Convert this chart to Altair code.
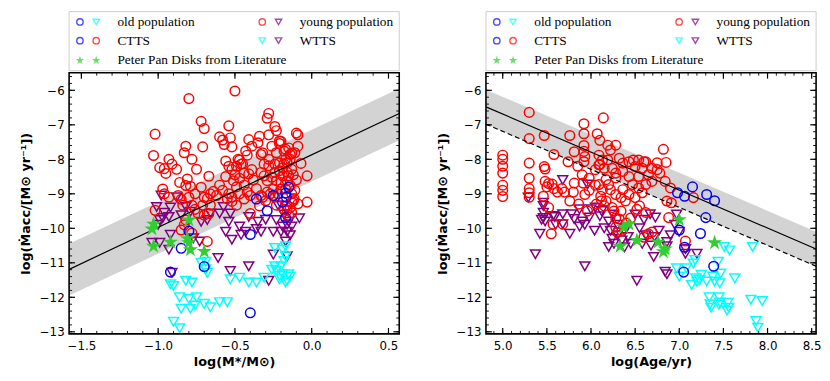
import altair as alt
import pandas as pd

# ---------------- LEFT PANEL: log(M*/Msun) ----------------
L_young_ctts = [
    (-0.50, -6.02), (-0.80, -6.24), (-1.02, -7.27), (-0.72, -6.90), (-0.70, -7.11), (-0.54, -7.03),
    (-0.82, -7.62), (-0.71, -7.64), (-1.03, -7.89), (-0.83, -7.81), (-0.78, -8.00), (-0.60, -7.35),
    (-0.58, -7.44), (-0.57, -7.57), (-0.53, -7.38), (-0.52, -7.64), (-0.28, -6.67), (-0.29, -6.81),
    (-0.24, -7.05), (-0.23, -7.17), (-0.34, -7.33), (-0.28, -7.29), (-0.41, -7.43), (-0.39, -7.62),
    (-0.21, -7.47), (-0.26, -7.62), (-0.09, -7.29), (-0.09, -7.62), (-0.43, -7.76), (-0.42, -7.88),
    (-0.32, -7.81), (-0.23, -7.81), (-0.18, -7.76), (-0.13, -7.82), (-0.56, -8.05), (-0.47, -8.02),
    (-0.45, -8.13), (-0.07, -8.12), (-0.03, -8.48), (-0.21, -7.54), (-0.35, -7.52), (-0.17, -7.71),
    (-0.15, -7.67), (-0.11, -7.81), (-0.10, -7.24), (-0.20, -7.48), (-0.14, -7.86),
    (-0.93, -8.00), (-0.91, -8.14), (-0.99, -8.24), (-0.96, -8.27), (-0.95, -8.41), (-0.88, -8.29),
    (-0.67, -8.49), (-0.56, -8.50), (-0.48, -8.00), (-0.46, -8.14), (-0.86, -8.67), (-0.81, -8.57),
    (-0.82, -8.76), (-0.79, -8.78), (-0.72, -8.81), (-0.76, -9.00), (-0.70, -9.10), (-0.66, -9.00),
    (-0.64, -8.93), (-0.97, -8.86), (-0.96, -9.00), (-0.93, -9.10), (-0.87, -9.05), (-0.85, -9.16),
    (-0.80, -9.10), (-0.78, -9.33), (-0.71, -9.33), (-0.68, -9.14), (-0.75, -8.29), (-0.54, -8.20),
    (-0.52, -8.30), (-0.49, -8.20), (-0.50, -8.45), (-0.47, -8.55), (-0.51, -8.62), (-0.49, -8.80),
    (-0.54, -9.00), (-0.52, -9.10), (-0.55, -9.14), (-0.47, -9.00), (-0.44, -8.40), (-0.41, -8.42),
    (-0.39, -8.30), (-0.60, -8.75), (-0.58, -8.90), (-0.62, -9.05), (-0.44, -8.75), (-0.42, -8.95),
    (-0.38, -8.60), (-0.36, -8.85), (-1.02, -9.48), (-0.84, -9.33), (-0.74, -9.57), (-0.83, -9.90),
    (-0.85, -10.05), (-0.78, -10.14), (-0.68, -10.38), (-0.66, -9.33), (-0.49, -9.33), (-0.52, -9.22),
    (-0.03, -9.24), (-0.82, -9.76), (-0.76, -9.45), (-0.70, -9.62), (-0.67, -9.57), (-0.40, -9.57),
    (-0.34, -9.35), (-0.33, -9.05), (-0.30, -9.20), (-0.27, -9.00), (-0.40, -9.05), (-0.44, -9.15),
    (-0.33, -7.86), (-0.28, -8.00), (-0.31, -8.14), (-0.28, -8.19), (-0.24, -8.14), (-0.21, -8.10),
    (-0.18, -8.14), (-0.16, -8.10), (-0.14, -8.00), (-0.13, -8.29), (-0.16, -8.38), (-0.19, -8.48),
    (-0.21, -8.33), (-0.24, -8.38), (-0.26, -8.52), (-0.29, -8.62), (-0.31, -8.48), (-0.33, -8.38),
    (-0.23, -8.62), (-0.20, -8.67), (-0.16, -8.62), (-0.14, -8.76), (-0.17, -8.86), (-0.20, -8.86),
    (-0.22, -9.00), (-0.25, -8.86), (-0.29, -8.95), (-0.32, -9.10), (-0.13, -9.00), (-0.115, -9.14),
    (-0.16, -9.33), (-0.16, -9.48), (-0.23, -9.33), (-0.24, -9.10), (-0.09, -9.29), (-0.15, -8.48),
    (-0.14, -9.40), (-0.13, -9.55), (-0.15, -9.62), (-0.12, -9.20), (-0.18, -9.45), (-0.11, -8.90),
    (-0.10, -8.60), (-0.12, -8.45), (-0.19, -8.25), (-0.17, -8.00), (-0.13, -9.24),
]
L_young_wtts = [
    (-1.01, -9.38), (-0.98, -9.05), (-0.99, -9.76), (-0.97, -9.70), (-0.93, -9.67), (-0.92, -10.19),
    (-0.93, -10.62), (-0.92, -9.40), (-0.85, -9.62), (-0.79, -9.52), (-0.72, -9.81), (-0.77, -10.29),
    (-0.73, -10.38), (-0.68, -9.76), (-0.66, -9.57), (-0.60, -9.57), (-0.53, -9.57), (-0.54, -9.81),
    (-0.56, -10.10), (-0.52, -10.33), (-0.47, -9.95), (-0.46, -10.19), (-0.41, -9.67), (-0.43, -10.10),
    (-0.35, -9.81), (-0.33, -10.10), (-0.36, -10.02), (-0.30, -9.75), (-0.23, -9.76), (-0.25, -10.10),
    (-0.20, -10.10), (-0.165, -9.48), (-0.16, -9.90), (-0.15, -9.81), (-0.08, -9.71), (-0.16, -10.10),
    (-0.17, -10.38), (-0.16, -10.81), (-0.25, -10.76), (-0.61, -10.86), (-0.53, -11.24), (-0.41, -11.10),
    (-0.28, -11.52), (-0.91, -11.29), (-1.00, -9.90), (-1.04, -10.42), (-0.99, -10.42), (-0.13, -9.95),
    (-0.18, -9.60), (-0.19, -9.95), (-0.14, -10.20), (-0.88, -9.10), (-0.82, -9.38), (-0.575, -9.38),
    (-0.22, -9.33), (-0.96, -9.55),
]
L_old_wtts = [
    (-0.90, -11.67), (-0.92, -11.62), (-0.82, -11.52), (-0.78, -11.57), (-0.86, -12.00), (-0.80, -12.05),
    (-0.75, -12.00), (-0.85, -12.33), (-0.79, -12.33), (-0.76, -12.24), (-0.70, -12.19), (-0.66, -12.29),
    (-0.60, -12.14), (-0.55, -12.14), (-0.90, -12.71), (-0.86, -12.90), (-0.72, -11.00), (-0.69, -10.97),
    (-0.68, -11.29), (-0.69, -11.19), (-0.53, -11.48), (-0.47, -11.43), (-0.41, -11.57), (-0.36, -11.57),
    (-0.31, -11.43), (-0.24, -10.57), (-0.19, -10.62), (-0.17, -10.52), (-0.18, -10.95), (-0.17, -10.81),
    (-0.24, -11.10), (-0.23, -11.24), (-0.21, -11.38), (-0.19, -11.33), (-0.15, -11.33), (-0.16, -11.52),
    (-0.21, -11.48), (-0.26, -11.20), (-0.17, -11.57), (-0.14, -11.40), (-0.20, -11.10),
]
L_old_ctts = [
    (-0.15, -8.81), (-0.17, -8.98), (-0.165, -9.10), (-0.25, -9.05), (-0.36, -9.15), (-0.29, -9.49),
    (-0.19, -9.24), (-0.17, -9.69), (-0.40, -10.18), (-0.80, -10.08), (-0.85, -10.58), (-0.92, -11.27),
    (-0.70, -11.11), (-0.40, -12.45),
]
L_peter_pan = [
    (-1.03, -9.88), (-1.04, -10.02), (-1.03, -10.52), (-0.92, -10.40), (-0.80, -9.76), (-0.81, -10.30),
    (-0.80, -10.42), (-0.79, -10.62), (-0.70, -10.67),
]
L_fit_x = [-1.58, 0.57]
L_fit_y = [-11.19, -6.67]
L_band_hi = [-10.45, -5.95]
L_band_lo = [-11.95, -7.45]

# ---------------- RIGHT PANEL: log(Age/yr) ----------------
R_young_ctts = [
    (5.00, -7.88), (5.00, -8.00), (5.00, -8.20), (5.00, -8.40), (5.00, -8.75), (5.00, -8.90), (5.00, -9.08),
    (5.30, -6.64), (5.30, -7.40), (5.30, -8.11), (5.30, -8.55), (5.30, -8.85), (5.30, -8.97), (5.30, -9.10),
    (5.47, -7.31), (5.58, -7.86), (5.47, -8.21), (5.48, -8.28), (5.48, -8.64), (5.52, -8.70), (5.56, -8.72),
    (5.76, -7.31), (5.81, -7.78), (5.74, -8.07), (5.92, -6.97), (5.92, -7.26), (5.92, -7.60), (5.92, -7.77),
    (5.93, -7.92), (5.92, -8.07), (6.07, -7.26), (6.10, -7.45), (6.14, -6.80), (6.19, -7.59), (6.22, -7.73),
    (6.28, -7.59), (6.82, -7.71), (6.85, -8.09), (6.75, -8.30), (6.60, -8.07), (5.85, -8.20), (5.90, -8.45),
    (5.98, -8.55), (6.05, -8.30), (6.10, -8.15), (6.09, -7.88), (6.13, -8.02), (6.19, -8.02), (6.09, -8.16),
    (6.15, -8.26), (6.24, -8.26), (6.28, -8.40), (6.32, -7.97), (6.36, -8.11), (6.43, -8.07), (6.48, -8.02),
    (6.54, -8.02), (6.62, -8.07), (6.50, -8.21), (6.58, -8.26), (6.69, -8.26), (6.78, -8.40), (6.65, -8.45),
    (6.54, -8.50), (6.43, -8.50), (6.36, -8.35), (6.28, -8.54), (6.17, -8.59), (6.09, -8.73), (6.13, -8.88),
    (6.11, -9.07), (6.17, -9.21), (6.28, -9.02), (6.34, -9.11), (6.36, -8.88), (6.24, -9.40), (6.34, -9.50),
    (6.32, -9.73), (6.28, -9.97), (6.47, -8.73), (6.54, -8.83), (6.62, -8.73), (6.69, -8.64), (6.43, -9.02),
    (6.50, -9.11), (6.58, -8.97), (6.39, -9.21), (6.20, -8.73), (6.22, -8.88), (6.84, -8.64), (6.90, -8.83),
    (6.86, -9.21), (6.91, -9.26), (7.16, -9.11), (6.62, -9.54), (6.65, -10.16), (7.07, -10.37), (6.75, -8.10),
    (5.50, -8.80), (5.58, -8.85), (5.62, -8.95), (5.67, -8.85), (5.46, -9.07), (5.52, -9.40), (5.57, -9.88),
    (5.55, -10.16), (5.68, -9.88), (5.76, -9.21), (5.93, -9.02), (5.91, -8.69), (5.81, -8.69), (5.96, -9.50),
    (6.06, -9.30), (6.12, -9.20), (6.05, -8.75), (5.70, -8.95), (5.80, -8.95), (5.86, -9.30), (5.98, -8.90),
    (6.35, -10.07), (6.30, -10.12), (6.60, -10.26), (6.69, -10.11), (6.88, -9.69), (6.52, -9.45), (6.55, -9.35),
    (6.26, -9.50), (6.28, -9.70), (6.15, -9.35), (6.40, -9.85), (6.45, -9.70),
]
R_young_wtts = [
    (5.29, -9.11), (5.46, -9.26), (5.46, -9.35), (5.46, -9.55), (5.46, -9.70), (5.48, -9.80), (5.44, -9.75),
    (5.57, -9.64), (5.59, -9.67), (5.68, -9.59), (5.78, -9.59), (5.81, -9.73), (5.87, -9.45), (5.90, -9.80),
    (5.93, -9.90), (5.87, -9.95), (5.98, -9.69), (6.00, -9.45), (6.05, -9.40), (6.10, -9.65), (6.12, -9.50),
    (5.68, -9.88), (5.42, -10.16), (5.76, -10.16), (6.04, -10.07), (5.37, -10.75), (5.93, -11.10), (6.22, -10.07),
    (6.24, -10.30), (6.20, -10.54), (6.26, -10.45), (6.30, -10.20), (6.35, -10.35), (6.38, -10.55), (6.42, -10.25),
    (6.45, -10.45), (6.40, -10.00), (6.52, -11.52), (6.71, -10.83), (6.77, -10.07), (6.72, -10.25), (6.86, -10.40),
    (6.86, -10.52), (6.84, -11.26), (6.86, -11.33), (6.97, -9.60), (6.95, -9.90), (7.00, -10.10), (7.07, -10.74),
    (7.07, -10.60), (7.20, -10.74), (6.67, -9.59), (6.73, -9.69), (6.60, -9.75), (6.55, -10.00), (5.96, -8.73),
    (5.68, -8.60), (6.30, -9.90), (6.20, -9.80), (6.25, -9.60), (6.50, -9.60), (6.58, -10.45), (6.68, -10.50),
    (6.62, -10.20), (6.90, -10.20), (5.60, -9.90), (6.15, -10.00),
]
R_old_wtts = [
    (6.97, -11.16), (7.00, -11.40), (7.08, -11.16), (7.16, -11.02), (7.18, -10.92), (7.19, -11.45), (7.14, -11.64),
    (7.23, -11.50), (7.31, -11.54), (7.38, -11.40), (7.40, -11.54), (7.47, -11.31), (7.46, -11.59), (7.44, -10.97),
    (7.51, -10.54), (7.57, -10.64), (7.63, -11.45), (7.34, -12.00), (7.35, -12.20), (7.36, -12.30), (7.45, -12.00),
    (7.46, -12.15), (7.45, -12.22), (7.55, -12.16), (7.56, -12.30), (7.54, -12.38), (7.83, -10.54), (7.81, -12.07),
    (7.94, -12.11), (7.87, -12.69), (7.89, -12.88), (7.20, -11.55), (7.25, -11.35),
]
R_old_ctts = [
    (6.98, -8.97), (7.06, -9.07), (7.15, -8.80), (7.31, -9.02), (7.40, -9.20), (7.30, -9.69), (7.00, -10.05),
    (7.24, -10.15), (7.06, -10.55), (7.05, -11.27), (7.39, -11.10),
]
R_peter_pan = [
    (6.37, -9.97), (6.43, -9.88), (6.33, -10.52), (6.52, -10.35), (6.76, -10.40), (6.84, -10.60), (6.82, -10.68),
    (7.00, -9.75), (7.40, -10.42),
]
R_fit_x = [4.81, 8.55]
R_fit_y = [-6.48, -10.60]
R_dash_y = [-6.98, -11.10]
R_band_hi = [-5.98, -10.10]
R_band_lo = [-6.98, -11.10]

# ---------------- legend ----------------
legend_labels = ["old population", "CTTS", "Peter Pan Disks from Literature", "young population", "WTTS"]
legend_col = [0, 0, 0, 1, 1]
legend_row = [0, 1, 2, 0, 1]
legend_sym1 = [("circle", "#0000ff"), ("circle", "#0000ff"), ("star", "#32cd32"),
               ("circle", "#ff0000"), ("triangle-down", "#00ffff")]
legend_sym2 = [("triangle-down", "#00ffff"), ("circle", "#ff0000"), ("star", "#32cd32"),
               ("triangle-down", "#800080"), ("triangle-down", "#800080")]

RED, BLUE, CYAN, PURPLE, GREEN = "#ff0000", "#0000ff", "#00ffff", "#800080", "#32cd32"
STAR = ("M0,-1L0.2245,-0.309L0.951,-0.309L0.363,0.118L0.588,0.809L0,0.382"
        "L-0.588,0.809L-0.363,0.118L-0.951,-0.309L-0.2245,-0.309Z")
FONT = "DejaVu Sans"
PW, PH, LH = 335, 265, 60
YTITLE = "log(Ṁacc/[M⊙ yr⁻¹])"
ONE = pd.DataFrame({"k": [0]})


def pts(p):
    return pd.DataFrame(p, columns=["x", "y"])


def frame(w, h, color, width):
    return alt.Chart(ONE).mark_rect(fillOpacity=0, stroke=color, strokeWidth=width).encode(
        x=alt.value(0), x2=alt.value(w), y=alt.value(0), y2=alt.value(h))


def legend_chart():
    col_x = [11, 196]
    row_y = [10.5, 29.5, 49.5]
    sym_rows, txt_rows = [], []
    for lab, c, r, s1, s2 in zip(legend_labels, legend_col, legend_row, legend_sym1, legend_sym2):
        for k, s in enumerate((s1, s2)):
            sym_rows.append(dict(lx=col_x[c] + 16.5 * k, ly=row_y[r], shape=s[0], color=s[1]))
        txt_rows.append(dict(lx=col_x[c] + 38, ly=row_y[r], label=lab))
    sd = pd.DataFrame(sym_rows)
    td = pd.DataFrame(txt_rows)
    xs = alt.Scale(domain=[0, PW], nice=False, zero=False)
    ys = alt.Scale(domain=[0, LH], reverse=True, nice=False, zero=False)
    X = alt.X("lx:Q", scale=xs, axis=None)
    Y = alt.Y("ly:Q", scale=ys, axis=None)
    open_sym = alt.Chart(sd[sd["shape"] != "star"]).mark_point(filled=False, size=42, strokeWidth=1.4).encode(
        x=X, y=Y, shape=alt.Shape("shape:N", scale=None), color=alt.Color("color:N", scale=None))
    stars = alt.Chart(sd[sd["shape"] == "star"]).mark_point(filled=True, shape=STAR, size=85).encode(
        x=X, y=Y, color=alt.Color("color:N", scale=None))
    text = alt.Chart(td).mark_text(align="left", baseline="middle", font="Liberation Serif",
                                   fontSize=13.5, color="black").encode(x=X, y=Y, text="label:N")
    return alt.layer(frame(PW, LH, "#cccccc", 1), open_sym, stars, text).properties(width=PW, height=LH)


def panel(xdom, ydom, xmaj, xmin, ymaj, ymin, xtitle, band_x, band_lo, band_hi, fit_y, dash_y,
          ctts_y, wtts_y, wtts_o, ctts_o, pp):
    xs = alt.Scale(domain=xdom, nice=False, zero=False)
    ys = alt.Scale(domain=ydom, nice=False, zero=False)
    xaxis = alt.Axis(values=xmaj, format=".1f", ticks=False, domain=False, grid=False, labelPadding=7,
                     labelFont=FONT, labelFontSize=12, labelColor="black", title=xtitle, titleFont=FONT,
                     titleFontSize=13, titleFontWeight="bold", titleColor="black", titlePadding=4)
    yaxis = alt.Axis(values=ymaj, format="d", ticks=False, domain=False, grid=False, labelPadding=5,
                     labelFont=FONT, labelFontSize=12, labelColor="black", title=YTITLE, titleFont=FONT,
                     titleFontSize=13, titleFontWeight="bold", titleColor="black", titlePadding=7)
    band_df = pd.DataFrame({"x": band_x, "lo": band_lo, "hi": band_hi})
    band = alt.Chart(band_df).mark_area(color="#d3d3d3", clip=True).encode(
        x=alt.X("x:Q", scale=xs, axis=xaxis),
        y=alt.Y("lo:Q", scale=ys, axis=yaxis),
        y2="hi:Q")

    def sc(df, shape, color, filled=False, size=95):
        if filled:
            m = alt.Chart(df).mark_point(filled=True, shape=shape, color=color, size=size, opacity=1, clip=True)
        else:
            m = alt.Chart(df).mark_point(filled=False, shape=shape, color=color, size=size, strokeWidth=1.5,
                                         opacity=1, clip=True)
        return m.encode(x=alt.X("x:Q", scale=xs, axis=None), y=alt.Y("y:Q", scale=ys, axis=None))

    layers = [band,
              sc(pts(wtts_y), "triangle-down", PURPLE, size=100),
              sc(pts(wtts_o), "triangle-down", CYAN, size=100),
              sc(pts(ctts_y), "circle", RED),
              sc(pts(ctts_o), "circle", BLUE)]
    line_df = pd.DataFrame({"x": band_x, "y": fit_y})
    layers.append(alt.Chart(line_df).mark_line(color="black", strokeWidth=1.2, clip=True).encode(
        x=alt.X("x:Q", scale=xs, axis=None), y=alt.Y("y:Q", scale=ys, axis=None)))
    if dash_y is not None:
        dash_df = pd.DataFrame({"x": band_x, "y": dash_y})
        layers.append(alt.Chart(dash_df).mark_line(color="black", strokeWidth=1.2, strokeDash=[5, 3], clip=True)
                      .encode(x=alt.X("x:Q", scale=xs, axis=None), y=alt.Y("y:Q", scale=ys, axis=None)))
    layers.append(sc(pts(pp), STAR, GREEN, filled=True, size=260))

    # inward ticks on all four sides (major and minor)
    for vals, ln, wd in ((xmaj, 6, 1.2), (xmin, 3, 0.9)):
        tdf = pd.DataFrame({"v": vals})
        X = alt.X("v:Q", scale=xs, axis=None)
        layers.append(alt.Chart(tdf).mark_rule(color="black", strokeWidth=wd).encode(
            x=X, y=alt.value(PH), y2=alt.value(PH - ln)))
        layers.append(alt.Chart(tdf).mark_rule(color="black", strokeWidth=wd).encode(
            x=X, y=alt.value(0), y2=alt.value(ln)))
    for vals, ln, wd in ((ymaj, 6, 1.2), (ymin, 3, 0.9)):
        tdf = pd.DataFrame({"v": vals})
        Y = alt.Y("v:Q", scale=ys, axis=None)
        layers.append(alt.Chart(tdf).mark_rule(color="black", strokeWidth=wd).encode(
            y=Y, x=alt.value(0), x2=alt.value(ln)))
        layers.append(alt.Chart(tdf).mark_rule(color="black", strokeWidth=wd).encode(
            y=Y, x=alt.value(PW), x2=alt.value(PW - ln)))
    layers.append(frame(PW, PH, "black", 1.6))
    return alt.layer(*layers).resolve_axis(x="independent", y="independent").properties(width=PW, height=PH)


ymaj = [-13, -12, -11, -10, -9, -8, -7, -6]
ymin = [round(-13 + 0.2 * i, 1) for i in range(38)]
L_xmaj = [-1.5, -1.0, -0.5, 0.0, 0.5]
L_xmin = [round(-1.5 + 0.1 * i, 1) for i in range(21)]
R_xmaj = [5.0, 5.5, 6.0, 6.5, 7.0, 7.5, 8.0, 8.5]
R_xmin = [round(4.9 + 0.1 * i, 1) for i in range(37)]

left = panel([-1.58, 0.57], [-13.06, -5.49], L_xmaj, L_xmin, ymaj, ymin, "log(M*/M⊙)",
             L_fit_x, L_band_lo, L_band_hi, L_fit_y, None,
             L_young_ctts, L_young_wtts, L_old_wtts, L_old_ctts, L_peter_pan)
right = panel([4.81, 8.55], [-13.06, -5.49], R_xmaj, R_xmin, ymaj, ymin, "log(Age/yr)",
              R_fit_x, R_band_lo, R_band_hi, R_fit_y, R_dash_y,
              R_young_ctts, R_young_wtts, R_old_wtts, R_old_ctts, R_peter_pan)

chart = alt.hconcat(
    alt.vconcat(legend_chart(), left, spacing=0),
    alt.vconcat(legend_chart(), right, spacing=0),
    spacing=36,
).properties(padding={"left": 11, "top": 0, "right": 0, "bottom": 0}).configure_view(stroke=None)

chart.save("out.html", embed_options={"renderer": "svg", "actions": False})
